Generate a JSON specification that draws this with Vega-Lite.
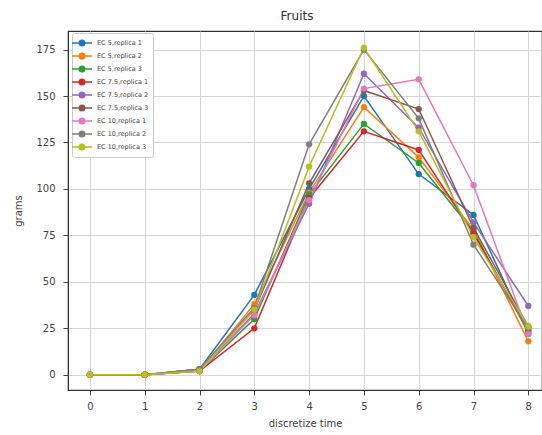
{
  "$schema": "https://vega.github.io/schema/vega-lite/v6.json",
  "width": 474,
  "height": 359,
  "autosize": "none",
  "padding": {"left": 68, "top": 31, "right": 0, "bottom": 45},
  "background": "white",
  "title": {"text": "Fruits", "fontSize": 12, "font": "DejaVu Sans", "fontWeight": "normal", "color": "#333", "offset": 8, "dx": -8},
  "config": {
    "view": {"stroke": "#333", "strokeWidth": 1.2},
    "axis": {"labelFont": "DejaVu Sans", "titleFont": "DejaVu Sans", "labelFontSize": 10, "titleFontSize": 10, "labelColor": "#444", "titleColor": "#444", "titleFontWeight": "normal", "gridColor": "#d6d6d6", "tickColor": "#444", "domainColor": "#333", "tickSize": 5}
  },
  "datasets": {
    "d": [
      {"s": "EC 5,replica 1", "t": 0, "g": 0}, {"s": "EC 5,replica 1", "t": 1, "g": 0}, {"s": "EC 5,replica 1", "t": 2, "g": 3}, {"s": "EC 5,replica 1", "t": 3, "g": 43}, {"s": "EC 5,replica 1", "t": 4, "g": 100}, {"s": "EC 5,replica 1", "t": 5, "g": 150}, {"s": "EC 5,replica 1", "t": 6, "g": 108}, {"s": "EC 5,replica 1", "t": 7, "g": 86}, {"s": "EC 5,replica 1", "t": 8, "g": 22},
      {"s": "EC 5,replica 2", "t": 0, "g": 0}, {"s": "EC 5,replica 2", "t": 1, "g": 0}, {"s": "EC 5,replica 2", "t": 2, "g": 2}, {"s": "EC 5,replica 2", "t": 3, "g": 38}, {"s": "EC 5,replica 2", "t": 4, "g": 98}, {"s": "EC 5,replica 2", "t": 5, "g": 144}, {"s": "EC 5,replica 2", "t": 6, "g": 117}, {"s": "EC 5,replica 2", "t": 7, "g": 78}, {"s": "EC 5,replica 2", "t": 8, "g": 18},
      {"s": "EC 5,replica 3", "t": 0, "g": 0}, {"s": "EC 5,replica 3", "t": 1, "g": 0}, {"s": "EC 5,replica 3", "t": 2, "g": 2}, {"s": "EC 5,replica 3", "t": 3, "g": 30}, {"s": "EC 5,replica 3", "t": 4, "g": 97}, {"s": "EC 5,replica 3", "t": 5, "g": 135}, {"s": "EC 5,replica 3", "t": 6, "g": 114}, {"s": "EC 5,replica 3", "t": 7, "g": 77}, {"s": "EC 5,replica 3", "t": 8, "g": 23},
      {"s": "EC 7.5,replica 1", "t": 0, "g": 0}, {"s": "EC 7.5,replica 1", "t": 1, "g": 0}, {"s": "EC 7.5,replica 1", "t": 2, "g": 2}, {"s": "EC 7.5,replica 1", "t": 3, "g": 25}, {"s": "EC 7.5,replica 1", "t": 4, "g": 95}, {"s": "EC 7.5,replica 1", "t": 5, "g": 131}, {"s": "EC 7.5,replica 1", "t": 6, "g": 121}, {"s": "EC 7.5,replica 1", "t": 7, "g": 76}, {"s": "EC 7.5,replica 1", "t": 8, "g": 24},
      {"s": "EC 7.5,replica 2", "t": 0, "g": 0}, {"s": "EC 7.5,replica 2", "t": 1, "g": 0}, {"s": "EC 7.5,replica 2", "t": 2, "g": 2}, {"s": "EC 7.5,replica 2", "t": 3, "g": 33}, {"s": "EC 7.5,replica 2", "t": 4, "g": 92}, {"s": "EC 7.5,replica 2", "t": 5, "g": 162}, {"s": "EC 7.5,replica 2", "t": 6, "g": 133}, {"s": "EC 7.5,replica 2", "t": 7, "g": 82}, {"s": "EC 7.5,replica 2", "t": 8, "g": 37},
      {"s": "EC 7.5,replica 3", "t": 0, "g": 0}, {"s": "EC 7.5,replica 3", "t": 1, "g": 0}, {"s": "EC 7.5,replica 3", "t": 2, "g": 3}, {"s": "EC 7.5,replica 3", "t": 3, "g": 35}, {"s": "EC 7.5,replica 3", "t": 4, "g": 103}, {"s": "EC 7.5,replica 3", "t": 5, "g": 153}, {"s": "EC 7.5,replica 3", "t": 6, "g": 143}, {"s": "EC 7.5,replica 3", "t": 7, "g": 79}, {"s": "EC 7.5,replica 3", "t": 8, "g": 26},
      {"s": "EC 10,replica 1", "t": 0, "g": 0}, {"s": "EC 10,replica 1", "t": 1, "g": 0}, {"s": "EC 10,replica 1", "t": 2, "g": 2}, {"s": "EC 10,replica 1", "t": 3, "g": 32}, {"s": "EC 10,replica 1", "t": 4, "g": 94}, {"s": "EC 10,replica 1", "t": 5, "g": 154}, {"s": "EC 10,replica 1", "t": 6, "g": 159}, {"s": "EC 10,replica 1", "t": 7, "g": 102}, {"s": "EC 10,replica 1", "t": 8, "g": 22},
      {"s": "EC 10,replica 2", "t": 0, "g": 0}, {"s": "EC 10,replica 2", "t": 1, "g": 0}, {"s": "EC 10,replica 2", "t": 2, "g": 3}, {"s": "EC 10,replica 2", "t": 3, "g": 36}, {"s": "EC 10,replica 2", "t": 4, "g": 124}, {"s": "EC 10,replica 2", "t": 5, "g": 175}, {"s": "EC 10,replica 2", "t": 6, "g": 138}, {"s": "EC 10,replica 2", "t": 7, "g": 70}, {"s": "EC 10,replica 2", "t": 8, "g": 25},
      {"s": "EC 10,replica 3", "t": 0, "g": 0}, {"s": "EC 10,replica 3", "t": 1, "g": 0}, {"s": "EC 10,replica 3", "t": 2, "g": 2}, {"s": "EC 10,replica 3", "t": 3, "g": 35}, {"s": "EC 10,replica 3", "t": 4, "g": 112}, {"s": "EC 10,replica 3", "t": 5, "g": 176}, {"s": "EC 10,replica 3", "t": 6, "g": 131}, {"s": "EC 10,replica 3", "t": 7, "g": 74}, {"s": "EC 10,replica 3", "t": 8, "g": 26}
    ]
  },
  "data": {"name": "d"},
  "mark": {"type": "line", "strokeWidth": 1.5, "clip": true, "point": {"filled": true, "size": 40}},
  "encoding": {
    "x": {"field": "t", "type": "quantitative", "title": "discretize time",
      "scale": {"domain": [-0.4, 8.25], "nice": false, "zero": false},
      "axis": {"values": [0,1,2,3,4,5,6,7,8], "format": "d", "grid": true, "labelPadding": 6, "titlePadding": 7}},
    "y": {"field": "g", "type": "quantitative", "title": "grams",
      "scale": {"domain": [-8.2, 185], "nice": false, "zero": false},
      "axis": {"values": [0,25,50,75,100,125,150,175], "grid": true, "labelPadding": 8, "titlePadding": 12}},
    "color": {"field": "s", "type": "nominal",
      "sort": ["EC 5,replica 1","EC 5,replica 2","EC 5,replica 3","EC 7.5,replica 1","EC 7.5,replica 2","EC 7.5,replica 3","EC 10,replica 1","EC 10,replica 2","EC 10,replica 3"],
      "scale": {"range": ["#1f77b4","#ff7f0e","#2ca02c","#d62728","#9467bd","#8c564b","#e377c2","#7f7f7f","#bcbd22"]},
      "legend": {"title": null, "orient": "none", "legendX": 4, "legendY": 2,
        "symbolType": "M-2,0L2,0M-0.55,0A0.55,0.55,0,1,1,0.55,0A0.55,0.55,0,1,1,-0.55,0Z",
        "symbolSize": 100, "symbolStrokeWidth": 1.5, "labelFontSize": 6.5, "labelFont": "DejaVu Sans", "labelColor": "#444",
        "labelOffset": 9, "rowPadding": 1, "padding": 4, "fillColor": "white", "strokeColor": "#ccc", "cornerRadius": 2, "offset": 0}}
  }
}
